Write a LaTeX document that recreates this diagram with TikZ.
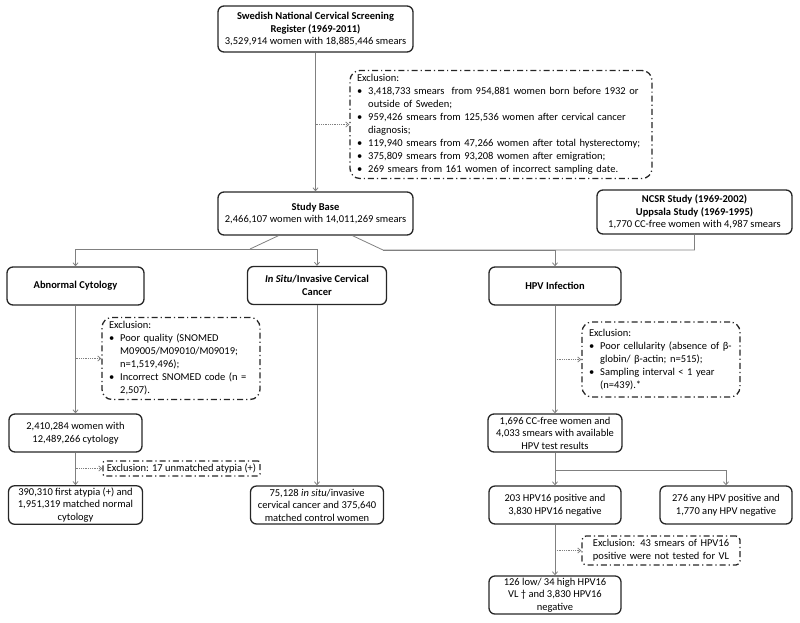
\documentclass[tikz,border=0pt]{standalone}
\usepackage{fontspec}
\setmainfont{Carlito}
\usepackage{tikz}
\usetikzlibrary{arrows.meta}
\usetikzlibrary{calc}
\tikzset{
    box/.style={
        draw=black!85,
        rounded corners=6pt,
        line width=1.3pt,
        align=center,
        inner sep=2pt,
        font=\fontsize{10.5}{12.5}\selectfont
    },
    exclbox/.style={
        draw=black!85,
        rounded corners=10pt,
        line width=1.3pt,
        dash pattern=on 6pt off 3pt on 1.2pt off 3pt,
        align=left,
        inner xsep=7pt,
        inner ysep=2pt,
        font=\fontsize{10.5}{13}\selectfont
    },
    link/.style={draw=black!50, line width=0.8pt},
    flow/.style={link, -{Straight Barb[length=3pt, width=5pt]}},
    exflow/.style={flow, densely dotted}
}

\begin{document}
\begin{tikzpicture}[x=1pt, y=-1pt]
    \useasboundingbox (0,0) rectangle (800,622);

    % Register and study base
    \node[box, minimum width=195pt, minimum height=46pt] (reg) at (315.5,29)
        {\textbf{Swedish National Cervical Screening}\\\textbf{Register (1969-2011)}\\3,529,914 women with 18,885,446 smears};
    \node[exclbox, text width=288pt, minimum height=105pt] (exA) at (501,124.5)
        {\begin{tabular}{@{}l@{\hspace{6pt}}l@{}}
         \multicolumn{2}{@{}l@{}}{Exclusion:}\\
         \textbullet & 3,418,733 smears\ \ from 954,881 women born before 1932 or\\
                     & outside of Sweden;\\
         \textbullet & 959,426 smears from 125,536 women after cervical cancer\\
                     & diagnosis;\\
         \textbullet & 119,940 smears from 47,266 women after total hysterectomy;\\
         \textbullet & 375,809 smears from 93,208 women after emigration;\\
         \textbullet & 269 smears from 161 women of incorrect sampling date.
         \end{tabular}};
    \node[box, minimum width=195pt, minimum height=43pt] (base) at (315.5,213.5)
        {\textbf{Study Base}\\2,466,107 women with 14,011,269 smears};
    \node[box, minimum width=195pt, minimum height=44pt] (ncsr) at (694.5,212)
        {\textbf{NCSR Study (1969-2002)}\\\textbf{Uppsala Study (1969-1995)}\\1,770 CC-free women with 4,987 smears};

    % Three outcomes
    \node[box, minimum width=137pt, minimum height=38pt] (cyto) at (75.5,286) {\textbf{Abnormal Cytology}};
    \node[box, minimum width=139pt, minimum height=38pt] (situ) at (317,285.5)
        {\textbf{\textit{In Situ}/Invasive Cervical}\\\textbf{Cancer}};
    \node[box, minimum width=132pt, minimum height=38pt] (hpv) at (555,286) {\textbf{HPV Infection}};

    % Abnormal cytology branch
    \node[exclbox, text width=144pt, minimum height=73pt] (exB) at (181,358.5)
        {\begin{tabular}{@{}l@{\hspace{6pt}}l@{}}
         \multicolumn{2}{@{}l@{}}{Exclusion:}\\
         \textbullet & Poor quality (SNOMED\\
                     & M09005/M09010/M09019;\\
                     & n=1,519,496);\\
         \textbullet & Incorrect SNOMED code (n =\\
                     & 2,507).
         \end{tabular}};
    \node[box, minimum width=133pt, minimum height=38pt] (cytoN) at (75.5,433)
        {2,410,284 women with\\12,489,266 cytology};
    \node[exclbox, minimum width=157pt, minimum height=15pt, inner xsep=2pt, inner ysep=1pt, rounded corners=2pt] (exC) at (181.5,468.5)
        {Exclusion: 17 unmatched atypia (+)};
    \node[box, minimum width=134pt, minimum height=38pt] (atyp) at (75.5,505)
        {390,310 first atypia (+) and\\1,951,319 matched normal\\cytology};

    % Cancer branch
    \node[box, minimum width=133pt, minimum height=38pt] (cancer) at (317,505)
        {75,128 \textit{in situ}/invasive\\cervical cancer and 375,640\\matched control women};

    % HPV branch
    \node[exclbox, text width=144pt, minimum height=75pt] (exD) at (661,359.5)
        {\begin{tabular}{@{}l@{\hspace{6pt}}l@{}}
         \multicolumn{2}{@{}l@{}}{Exclusion:}\\
         \textbullet & Poor cellularity (absence of β-\\
                     & globin/ β-actin; n=515);\\
         \textbullet & Sampling interval < 1 year\\
                     & (n=439).*
         \end{tabular}};
    \node[box, minimum width=134pt, minimum height=38pt] (hpvN) at (555,433)
        {1,696 CC-free women and\\4,033 smears with available\\HPV test results};
    \node[box, minimum width=132pt, minimum height=38pt] (hpv16) at (555,505)
        {203 HPV16 positive and\\3,830 HPV16 negative};
    \node[box, minimum width=132pt, minimum height=38pt] (anyhpv) at (726,505)
        {276 any HPV positive and\\1,770 any HPV negative};
    \node[exclbox, align=center, text width=144pt, minimum height=29pt, rounded corners=4pt] (exE) at (661,550.5)
        {Exclusion: 43 smears of HPV16\\positive were not tested for VL};
    \node[box, minimum width=132pt, minimum height=38pt] (vl) at (555,595)
        {126 low/ 34 high HPV16\\VL \textdagger{} and 3,830 HPV16\\negative};

    % Junction points
    \coordinate (bl) at (250,249);
    \coordinate (br) at (383,250);
    \coordinate (split) at (555,470);
    \coordinate (ja) at (reg.south |- exA.west);
    \coordinate (jb) at (cyto.south |- exB.west);
    \coordinate (jc) at (cyto.south |- exC.west);
    \coordinate (jd) at (hpv.south |- exD.west);
    \coordinate (je) at (hpv.south |- exE.west);

    % Connectors
    \draw[flow] (reg) -- (base);
    \draw[link] ([xshift=-37pt]base.south) -- (bl);
    \draw[flow] (bl) -| (cyto);
    \draw[flow] (bl) -| (situ);
    \draw[link] ([xshift=37pt]base.south) -- (br) -| (ncsr);
    \draw[flow] (br) -| (hpv);
    \draw[flow] (cyto) -- (cytoN);
    \draw[flow] (cytoN) -- (atyp);
    \draw[flow] (situ) -- (cancer);
    \draw[flow] (hpv) -- (hpvN);
    \draw[flow] (hpvN) -- (hpv16);
    \draw[flow] (split) -| (anyhpv);
    \draw[flow] (hpv16) -- (vl);

    % Exclusions
    \draw[exflow] (ja) -- (exA);
    \draw[exflow] (jb) -- (exB);
    \draw[exflow] (jc) -- (exC);
    \draw[exflow] (jd) -- (exD);
    \draw[exflow] (je) -- (exE);
\end{tikzpicture}
\end{document}
